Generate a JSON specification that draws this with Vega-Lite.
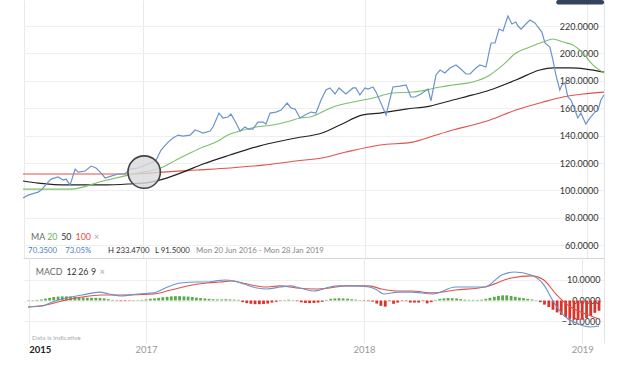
{
"$schema": "https://vega.github.io/schema/vega-lite/v6.json",
"padding": {"left": 20, "top": 0, "right": 0, "bottom": 0},
"background": "white",
"spacing": 0,
"config": {"view": {"stroke": null}, "font": "Lato", "concat": {"spacing": 0}},
"datasets": {
"price": [
{"t":2016.459,"v":94.5},{"t":2016.482,"v":96.6},{"t":2016.527,"v":98.8},{"t":2016.541,"v":100.3},{"t":2016.572,"v":106.1},{"t":2016.586,"v":108.3},{"t":2016.617,"v":109.8},{"t":2016.640,"v":107.6},{"t":2016.653,"v":108.3},{"t":2016.671,"v":103.9},{"t":2016.694,"v":115.6},{"t":2016.707,"v":113.4},{"t":2016.739,"v":114.2},{"t":2016.766,"v":117.8},{"t":2016.788,"v":116.4},{"t":2016.811,"v":112.7},{"t":2016.829,"v":109.1},{"t":2016.856,"v":110.5},{"t":2016.887,"v":112.0},{"t":2016.919,"v":112.0},{"t":2016.941,"v":115.6},{"t":2016.977,"v":116.4},{"t":2017.000,"v":117.8},{"t":2017.036,"v":120.0},{"t":2017.059,"v":122.2},{"t":2017.081,"v":129.5},{"t":2017.113,"v":135.3},{"t":2017.135,"v":138.3},{"t":2017.158,"v":140.4},{"t":2017.180,"v":139.7},{"t":2017.212,"v":140.4},{"t":2017.234,"v":144.1},{"t":2017.248,"v":143.4},{"t":2017.270,"v":141.9},{"t":2017.302,"v":143.4},{"t":2017.315,"v":146.3},{"t":2017.342,"v":156.5},{"t":2017.360,"v":152.9},{"t":2017.383,"v":153.6},{"t":2017.396,"v":155.8},{"t":2017.419,"v":149.2},{"t":2017.437,"v":143.4},{"t":2017.459,"v":146.3},{"t":2017.473,"v":144.8},{"t":2017.495,"v":144.8},{"t":2017.518,"v":149.9},{"t":2017.541,"v":149.9},{"t":2017.554,"v":148.5},{"t":2017.572,"v":156.5},{"t":2017.599,"v":157.2},{"t":2017.622,"v":158.7},{"t":2017.649,"v":163.8},{"t":2017.667,"v":160.2},{"t":2017.685,"v":159.4},{"t":2017.707,"v":152.9},{"t":2017.730,"v":155.1},{"t":2017.757,"v":157.2},{"t":2017.779,"v":156.5},{"t":2017.802,"v":166.0},{"t":2017.824,"v":173.3},{"t":2017.842,"v":174.8},{"t":2017.865,"v":170.4},{"t":2017.883,"v":174.8},{"t":2017.914,"v":170.4},{"t":2017.946,"v":174.8},{"t":2017.959,"v":174.8},{"t":2017.977,"v":169.7},{"t":2018.000,"v":174.8},{"t":2018.014,"v":174.0},{"t":2018.036,"v":175.5},{"t":2018.050,"v":171.8},{"t":2018.095,"v":155.1},{"t":2018.126,"v":175.5},{"t":2018.158,"v":176.2},{"t":2018.185,"v":177.0},{"t":2018.207,"v":168.2},{"t":2018.225,"v":168.2},{"t":2018.252,"v":170.4},{"t":2018.284,"v":174.0},{"t":2018.297,"v":165.3},{"t":2018.320,"v":184.3},{"t":2018.338,"v":187.9},{"t":2018.360,"v":185.7},{"t":2018.383,"v":189.4},{"t":2018.410,"v":191.6},{"t":2018.432,"v":188.6},{"t":2018.455,"v":185.0},{"t":2018.473,"v":185.0},{"t":2018.500,"v":189.4},{"t":2018.518,"v":191.6},{"t":2018.545,"v":190.1},{"t":2018.568,"v":207.6},{"t":2018.586,"v":207.6},{"t":2018.604,"v":217.8},{"t":2018.622,"v":216.4},{"t":2018.644,"v":227.3},{"t":2018.662,"v":221.5},{"t":2018.680,"v":222.9},{"t":2018.689,"v":220.0},{"t":2018.703,"v":217.8},{"t":2018.725,"v":221.5},{"t":2018.743,"v":224.4},{"t":2018.766,"v":222.2},{"t":2018.779,"v":219.3},{"t":2018.797,"v":215.6},{"t":2018.811,"v":207.6},{"t":2018.833,"v":204.7},{"t":2018.847,"v":195.2},{"t":2018.860,"v":184.3},{"t":2018.878,"v":173.3},{"t":2018.887,"v":176.9},{"t":2018.901,"v":178.4},{"t":2018.914,"v":168.2},{"t":2018.928,"v":166.0},{"t":2018.946,"v":158.7},{"t":2018.959,"v":152.9},{"t":2018.973,"v":156.5},{"t":2018.995,"v":148.5},{"t":2019.014,"v":152.9},{"t":2019.036,"v":157.2},{"t":2019.050,"v":158.7},{"t":2019.063,"v":166.0},{"t":2019.077,"v":169.7}
],
"ma20": [
{"t":2016.459,"v":101.0},{"t":2016.676,"v":101.0},{"t":2016.820,"v":106.9},{"t":2016.955,"v":112.0},{"t":2017.090,"v":117.1},{"t":2017.149,"v":122.2},{"t":2017.212,"v":127.3},{"t":2017.270,"v":131.7},{"t":2017.329,"v":135.3},{"t":2017.392,"v":141.2},{"t":2017.437,"v":143.4},{"t":2017.509,"v":146.3},{"t":2017.586,"v":147.8},{"t":2017.662,"v":150.7},{"t":2017.707,"v":152.9},{"t":2017.752,"v":153.6},{"t":2017.856,"v":160.9},{"t":2017.946,"v":164.5},{"t":2018.036,"v":167.5},{"t":2018.126,"v":171.1},{"t":2018.216,"v":171.8},{"t":2018.275,"v":173.3},{"t":2018.338,"v":175.5},{"t":2018.396,"v":177.0},{"t":2018.486,"v":179.1},{"t":2018.563,"v":184.3},{"t":2018.622,"v":191.6},{"t":2018.680,"v":200.3},{"t":2018.743,"v":204.7},{"t":2018.802,"v":208.3},{"t":2018.847,"v":210.5},{"t":2018.892,"v":208.3},{"t":2018.937,"v":206.2},{"t":2018.982,"v":200.3},{"t":2019.027,"v":191.6},{"t":2019.077,"v":185.7}
],
"ma50": [
{"t":2016.459,"v":106.9},{"t":2016.527,"v":105.4},{"t":2016.662,"v":104.0},{"t":2016.811,"v":104.0},{"t":2016.932,"v":104.7},{"t":2017.036,"v":106.1},{"t":2017.090,"v":108.3},{"t":2017.180,"v":113.4},{"t":2017.270,"v":119.3},{"t":2017.392,"v":125.9},{"t":2017.541,"v":133.2},{"t":2017.689,"v":138.3},{"t":2017.806,"v":141.9},{"t":2017.887,"v":147.8},{"t":2017.991,"v":155.1},{"t":2018.068,"v":156.5},{"t":2018.185,"v":159.4},{"t":2018.293,"v":161.6},{"t":2018.396,"v":166.0},{"t":2018.486,"v":169.7},{"t":2018.563,"v":173.3},{"t":2018.680,"v":180.6},{"t":2018.788,"v":187.9},{"t":2018.847,"v":189.4},{"t":2018.923,"v":189.4},{"t":2018.995,"v":188.6},{"t":2019.077,"v":186.4}
],
"ma100": [
{"t":2016.459,"v":112.0},{"t":2016.955,"v":112.0},{"t":2017.090,"v":113.4},{"t":2017.239,"v":114.9},{"t":2017.392,"v":116.4},{"t":2017.541,"v":118.5},{"t":2017.689,"v":121.5},{"t":2017.806,"v":123.7},{"t":2017.914,"v":128.0},{"t":2018.068,"v":133.2},{"t":2018.216,"v":135.3},{"t":2018.293,"v":139.0},{"t":2018.396,"v":144.1},{"t":2018.486,"v":147.8},{"t":2018.563,"v":151.4},{"t":2018.680,"v":158.7},{"t":2018.802,"v":164.5},{"t":2018.892,"v":168.2},{"t":2018.982,"v":170.4},{"t":2019.077,"v":171.8}
],
"marker": [{"t":2017.005,"v":113.4}],
"tag": [{"t":2018.862,"t2":2019.077,"v":235.8,"v2":239}],
"macd": [
{"t":2016.459,"v":-3.2},{"t":2016.527,"v":-2.7},{"t":2016.559,"v":-1.2},{"t":2016.631,"v":1.2},{"t":2016.707,"v":2.7},{"t":2016.788,"v":4.1},{"t":2016.829,"v":3.2},{"t":2016.887,"v":2.2},{"t":2016.964,"v":3.2},{"t":2017.036,"v":3.7},{"t":2017.099,"v":6.6},{"t":2017.158,"v":8.5},{"t":2017.234,"v":9.0},{"t":2017.279,"v":9.0},{"t":2017.315,"v":9.5},{"t":2017.360,"v":10.0},{"t":2017.405,"v":9.5},{"t":2017.450,"v":8.0},{"t":2017.509,"v":6.1},{"t":2017.554,"v":5.6},{"t":2017.617,"v":6.6},{"t":2017.662,"v":7.1},{"t":2017.707,"v":6.1},{"t":2017.766,"v":4.6},{"t":2017.797,"v":5.1},{"t":2017.842,"v":6.6},{"t":2017.887,"v":7.1},{"t":2017.959,"v":7.1},{"t":2018.023,"v":6.6},{"t":2018.059,"v":5.1},{"t":2018.090,"v":3.2},{"t":2018.158,"v":4.1},{"t":2018.216,"v":4.1},{"t":2018.315,"v":3.2},{"t":2018.419,"v":6.6},{"t":2018.554,"v":6.6},{"t":2018.631,"v":12.4},{"t":2018.689,"v":13.9},{"t":2018.766,"v":12.4},{"t":2018.824,"v":7.6},{"t":2018.869,"v":-0.7},{"t":2018.914,"v":-7.1},{"t":2018.973,"v":-11.0},{"t":2019.036,"v":-12.9},{"t":2019.077,"v":-12.4}
],
"signal": [
{"t":2016.459,"v":-3.2},{"t":2016.541,"v":-2.2},{"t":2016.631,"v":0.2},{"t":2016.707,"v":1.7},{"t":2016.797,"v":2.7},{"t":2016.887,"v":2.7},{"t":2017.036,"v":3.2},{"t":2017.113,"v":5.1},{"t":2017.189,"v":7.1},{"t":2017.279,"v":8.5},{"t":2017.338,"v":9.0},{"t":2017.392,"v":9.5},{"t":2017.464,"v":8.0},{"t":2017.541,"v":6.6},{"t":2017.617,"v":7.1},{"t":2017.689,"v":6.1},{"t":2017.779,"v":5.6},{"t":2017.842,"v":6.1},{"t":2017.914,"v":7.1},{"t":2018.023,"v":7.1},{"t":2018.081,"v":5.6},{"t":2018.158,"v":4.6},{"t":2018.216,"v":4.6},{"t":2018.315,"v":3.7},{"t":2018.419,"v":5.1},{"t":2018.554,"v":6.6},{"t":2018.676,"v":11.0},{"t":2018.766,"v":12.0},{"t":2018.824,"v":10.0},{"t":2018.883,"v":2.7},{"t":2018.946,"v":-3.2},{"t":2019.005,"v":-6.1},{"t":2019.077,"v":-9.0}
],
"hist": [
{"t":2016.462,"v":0.2},{"t":2016.481,"v":0.2},{"t":2016.500,"v":0.3},{"t":2016.520,"v":0.5},{"t":2016.539,"v":0.9},{"t":2016.558,"v":1.3},{"t":2016.577,"v":1.7},{"t":2016.597,"v":1.9},{"t":2016.616,"v":2.0},{"t":2016.635,"v":2.0},{"t":2016.654,"v":1.9},{"t":2016.674,"v":1.7},{"t":2016.693,"v":1.6},{"t":2016.712,"v":1.5},{"t":2016.731,"v":1.4},{"t":2016.750,"v":1.3},{"t":2016.770,"v":1.3},{"t":2016.789,"v":1.2},{"t":2016.808,"v":1.0},{"t":2016.827,"v":0.6},{"t":2016.847,"v":0.3},{"t":2016.866,"v":-0.2},{"t":2016.885,"v":-0.3},{"t":2016.904,"v":-0.3},{"t":2016.924,"v":-0.2},{"t":2016.943,"v":0.2},{"t":2016.962,"v":0.2},{"t":2016.981,"v":0.3},{"t":2017.000,"v":0.5},{"t":2017.020,"v":0.8},{"t":2017.039,"v":1.0},{"t":2017.058,"v":1.3},{"t":2017.077,"v":1.6},{"t":2017.097,"v":1.8},{"t":2017.116,"v":2.0},{"t":2017.135,"v":2.1},{"t":2017.154,"v":2.1},{"t":2017.174,"v":2.0},{"t":2017.193,"v":1.9},{"t":2017.212,"v":1.7},{"t":2017.231,"v":1.4},{"t":2017.250,"v":1.2},{"t":2017.270,"v":1.0},{"t":2017.289,"v":0.8},{"t":2017.308,"v":0.6},{"t":2017.327,"v":0.5},{"t":2017.347,"v":0.5},{"t":2017.366,"v":0.6},{"t":2017.385,"v":0.5},{"t":2017.404,"v":0.4},{"t":2017.424,"v":0.3},{"t":2017.443,"v":-0.8},{"t":2017.462,"v":-1.3},{"t":2017.481,"v":-1.6},{"t":2017.500,"v":-1.8},{"t":2017.520,"v":-1.8},{"t":2017.539,"v":-1.7},{"t":2017.558,"v":-1.5},{"t":2017.577,"v":-1.0},{"t":2017.597,"v":-0.6},{"t":2017.616,"v":-0.2},{"t":2017.635,"v":0.2},{"t":2017.654,"v":0.4},{"t":2017.674,"v":0.2},{"t":2017.693,"v":-0.3},{"t":2017.712,"v":-0.9},{"t":2017.731,"v":-1.2},{"t":2017.750,"v":-1.3},{"t":2017.770,"v":-1.2},{"t":2017.789,"v":-1.0},{"t":2017.808,"v":-0.6},{"t":2017.827,"v":0.3},{"t":2017.847,"v":0.8},{"t":2017.866,"v":1.0},{"t":2017.885,"v":1.1},{"t":2017.904,"v":1.0},{"t":2017.924,"v":0.9},{"t":2017.943,"v":0.6},{"t":2017.962,"v":0.4},{"t":2017.981,"v":0.2},{"t":2018.000,"v":-0.2},{"t":2018.020,"v":-0.3},{"t":2018.039,"v":-0.5},{"t":2018.058,"v":-1.5},{"t":2018.077,"v":-2.6},{"t":2018.097,"v":-3.0},{"t":2018.116,"v":-0.3},{"t":2018.135,"v":-1.6},{"t":2018.154,"v":-1.0},{"t":2018.174,"v":-0.3},{"t":2018.193,"v":-0.3},{"t":2018.212,"v":-1.0},{"t":2018.231,"v":-1.0},{"t":2018.250,"v":-1.0},{"t":2018.270,"v":-0.3},{"t":2018.289,"v":-1.4},{"t":2018.308,"v":-0.8},{"t":2018.327,"v":0.3},{"t":2018.347,"v":0.8},{"t":2018.366,"v":1.0},{"t":2018.385,"v":1.2},{"t":2018.404,"v":1.1},{"t":2018.424,"v":1.0},{"t":2018.443,"v":0.7},{"t":2018.462,"v":0.4},{"t":2018.481,"v":0.3},{"t":2018.500,"v":0.3},{"t":2018.520,"v":0.3},{"t":2018.539,"v":0.4},{"t":2018.558,"v":0.8},{"t":2018.577,"v":1.3},{"t":2018.597,"v":1.8},{"t":2018.616,"v":2.2},{"t":2018.635,"v":2.5},{"t":2018.654,"v":2.5},{"t":2018.674,"v":2.2},{"t":2018.693,"v":1.8},{"t":2018.712,"v":1.4},{"t":2018.731,"v":1.1},{"t":2018.750,"v":0.8},{"t":2018.770,"v":0.5},{"t":2018.789,"v":0.2},{"t":2018.808,"v":-0.8},{"t":2018.827,"v":-2.0},{"t":2018.847,"v":-3.2},{"t":2018.866,"v":-4.5},{"t":2018.885,"v":-5.8},{"t":2018.904,"v":-7.0},{"t":2018.924,"v":-8.0},{"t":2018.943,"v":-8.8},{"t":2018.962,"v":-9.3},{"t":2018.981,"v":-9.5},{"t":2019.000,"v":-9.3},{"t":2019.020,"v":-8.5},{"t":2019.039,"v":-7.5},{"t":2019.058,"v":-6.0},{"t":2019.077,"v":-5.0}
],
"maLegend": [
{"t":2016.495,"v":66.0,"s":"MA"},{"t":2016.568,"v":66.0,"s":"20"},{"t":2016.631,"v":66.0,"s":"50"},{"t":2016.696,"v":66.0,"s":"100"},{"t":2016.779,"v":66.0,"s":"×"}
],
"info": [
{"t":2016.482,"v":55.8,"s":"70.3500"},{"t":2016.649,"v":55.8,"s":"73.05%"},{"t":2016.842,"v":55.8,"s":"H 233.4700"},{"t":2017.054,"v":55.8,"s":"L 91.5000"},{"t":2017.239,"v":55.8,"s":"Mon 20 Jun 2016 - Mon 28 Jan 2019"}
],
"macdLegend": [
{"t":2016.495,"v":13.9,"s":"MACD"},{"t":2016.635,"v":13.9,"s":"12"},{"t":2016.689,"v":13.9,"s":"26"},{"t":2016.748,"v":13.9,"s":"9"},{"t":2016.788,"v":13.9,"s":"×"}
],
"note": [{"t":2016.477,"v":-18.3,"s":"Data is indicative"}]
},
"vconcat": [
{
"width": 581, "height": 258,
"encoding": {
"x": {"field": "t", "type": "quantitative", "scale": {"domain": [2016.459, 2019.077], "nice": false, "zero": false},
 "axis": {"values": [2016.462, 2017, 2018, 2019], "labels": false, "ticks": false, "domain": true, "domainColor": "#d5d5d5", "grid": true, "gridColor": "#e9e9e9", "title": null}},
"y": {"field": "v", "type": "quantitative", "scale": {"domain": [50.7, 239], "nice": false, "zero": false},
 "axis": {"orient": "right", "values": [60, 80, 100, 120, 140, 160, 180, 200, 220], "format": ".4f", "labelAlign": "right", "labelPadding": -6, "ticks": false, "domain": true, "domainColor": "#e3e3e3", "grid": true, "gridColor": "#efefef", "labelColor": "#333", "labelFontSize": 9, "labelFont": "Lato", "title": null}}
},
"layer": [
{"data": {"name": "ma100"}, "mark": {"type": "line", "color": "#e0524a", "strokeWidth": 1.1, "interpolate": "monotone"}, "encoding": {}},
{"data": {"name": "ma50"}, "mark": {"type": "line", "color": "#222222", "strokeWidth": 1.2, "interpolate": "monotone"}, "encoding": {}},
{"data": {"name": "ma20"}, "mark": {"type": "line", "color": "#7cbf6a", "strokeWidth": 1.1, "interpolate": "monotone"}, "encoding": {}},
{"data": {"name": "price"}, "mark": {"type": "line", "color": "#6b93cc", "strokeWidth": 1.2}, "encoding": {}},
{"data": {"name": "marker"}, "mark": {"type": "point", "filled": true, "size": 1050, "fill": "#d9d9dc", "fillOpacity": 0.8, "stroke": "#444", "strokeWidth": 1.6, "opacity": 1}},
{"data": {"name": "tag"}, "mark": {"type": "rect", "color": "#34435c", "cornerRadius": 2},
 "encoding": {"x2": {"field": "t2"}, "y2": {"field": "v2"}}},
{"data": {"name": "maLegend"}, "mark": {"type": "text", "align": "left", "baseline": "middle", "fontSize": 8.8},
 "encoding": {"text": {"field": "s"}, "color": {"field": "s", "type": "nominal", "legend": null,
  "scale": {"domain": ["MA", "20", "50", "100", "×", "70.3500", "73.05%", "H 233.4700", "L 91.5000", "Mon 20 Jun 2016 - Mon 28 Jan 2019", "MACD", "12", "26", "9", "Data is indicative"],
            "range": ["#666666", "#6db05c", "#333333", "#e0524a", "#aaaaaa", "#4a7fc1", "#4a7fc1", "#333333", "#333333", "#888888", "#666666", "#333333", "#333333", "#333333", "#aaaaaa"]}}}},
{"data": {"name": "info"}, "mark": {"type": "text", "align": "left", "baseline": "middle", "fontSize": 7.8},
 "encoding": {"text": {"field": "s"}, "color": {"field": "s", "type": "nominal", "legend": null}}}
]
},
{
"width": 581, "height": 85,
"encoding": {
"x": {"field": "t", "type": "quantitative", "scale": {"domain": [2016.459, 2019.077], "nice": false, "zero": false},
 "axis": {"values": [2016.462, 2017, 2018, 2019], "labelExpr": "datum.value < 2016.9 ? '2015' : format(datum.value, 'd')",
  "labelAlign": {"condition": {"test": "datum.value < 2016.9", "value": "left"}, "value": "center"},
  "labelFontWeight": {"condition": {"test": "datum.value < 2016.9", "value": "bold"}, "value": "normal"},
  "labelColor": {"condition": {"test": "datum.value < 2016.9", "value": "#222222"}, "value": "#999999"},
  "labelFontSize": 9.5, "labelFlush": false, "labelOverlap": false, "labelPadding": 1, "ticks": false, "domain": false, "grid": true, "gridColor": "#e9e9e9", "title": null}},
"y": {"field": "v", "type": "quantitative", "scale": {"domain": [-20.7, 20.7], "nice": false, "zero": false},
 "axis": {"orient": "right", "values": [-10, 0, 10], "format": ".4f", "labelAlign": "right", "labelPadding": -4, "ticks": false, "domain": true, "domainColor": "#e3e3e3", "grid": true, "gridColor": "#efefef", "labelColor": "#333", "labelFontSize": 9, "title": null}}
},
"layer": [
{"data": {"name": "hist"}, "mark": {"type": "bar", "size": 2.8},
 "encoding": {"color": {"condition": {"test": "datum.v >= 0", "value": "#5aa94b"}, "value": "#d9342b"}}},
{"data": {"name": "signal"}, "mark": {"type": "line", "color": "#e0524a", "strokeWidth": 1.1, "interpolate": "monotone"}, "encoding": {}},
{"data": {"name": "macd"}, "mark": {"type": "line", "color": "#6b93cc", "strokeWidth": 1.1, "interpolate": "monotone"}, "encoding": {}},
{"data": {"name": "macdLegend"}, "mark": {"type": "text", "align": "left", "baseline": "middle", "fontSize": 8.8},
 "encoding": {"text": {"field": "s"}, "color": {"field": "s", "type": "nominal", "legend": null}}},
{"data": {"name": "note"}, "mark": {"type": "text", "align": "left", "baseline": "middle", "fontSize": 6.5},
 "encoding": {"text": {"field": "s"}, "color": {"field": "s", "type": "nominal", "legend": null}}}
]
}
],
"resolve": {"scale": {"color": "shared"}}
}
